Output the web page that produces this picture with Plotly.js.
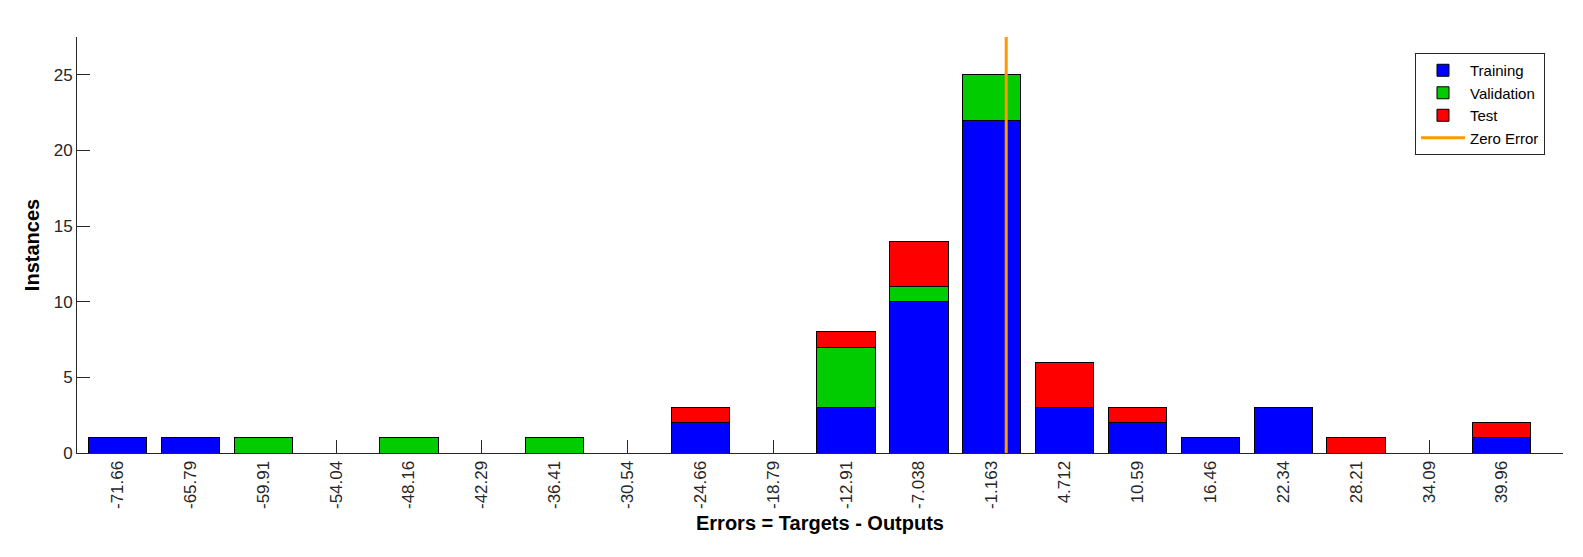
<!DOCTYPE html>
<html>
<head>
<meta charset="utf-8">
<script src="https://cdn.plot.ly/plotly-3.0.1.min.js"></script>
<style>html,body{margin:0;padding:0;background:#fff;}#chart{width:1583px;height:557px;}</style>
</head>
<body>
<div id="chart"></div>
<script>
const binLabels = ["-71.66","-65.79","-59.91","-54.04","-48.16","-42.29","-36.41","-30.54","-24.66","-18.79","-12.91","-7.038","-1.163","4.712","10.59","16.46","22.34","28.21","34.09","39.96"];
const binCenters = [-71.66,-65.79,-59.91,-54.04,-48.16,-42.29,-36.41,-30.54,-24.66,-18.79,-12.91,-7.038,-1.163,4.712,10.59,16.46,22.34,28.21,34.09,39.96];
const training   = [1,1,0,0,0,0,0,0,2,0,3,10,22,3,2,1,3,0,0,1];
const validation = [0,0,1,0,1,0,1,0,0,0,4,1,3,0,0,0,0,0,0,0];
const test       = [0,0,0,0,0,0,0,0,1,0,1,3,0,3,1,0,0,1,0,1];
const zeroErrorX = [0,0];
const zeroErrorY = [0,27.5];

const binStep = (binCenters[binCenters.length-1]-binCenters[0])/(binCenters.length-1);
const barW = binStep*0.8;
const font = "Liberation Sans, Arial, sans-serif";

function barTrace(name, vals, color){
  return {type:'bar', name:name, x:binCenters, y:vals, width:barW,
    marker:{color:color, line:{color:'#000', width:1}}, hoverinfo:'skip'};
}
const data = [
  barTrace('Training', training, '#0000FF'),
  barTrace('Validation', validation, '#00CC00'),
  barTrace('Test', test, '#FF0000'),
  {type:'scatter', mode:'lines', name:'Zero Error', x:zeroErrorX, y:zeroErrorY,
   line:{color:'#FF9900', width:3}, hoverinfo:'skip'}
];
const layout = {
  width:1583, height:557,
  margin:{l:77, r:20, t:37, b:104},
  paper_bgcolor:'#fff', plot_bgcolor:'#fff',
  barmode:'stack',
  font:{family:font, size:17, color:'#262626'},
  showlegend:true,
  legend:{x:0.9004, y:0.9615, xanchor:'left', yanchor:'top', bgcolor:'#fff',
    bordercolor:'#262626', borderwidth:1, font:{size:15, color:'#000'},
    traceorder:'normal', tracegroupgap:0, itemwidth:44},
  xaxis:{range:[binCenters[0]-0.556*binStep, binCenters[binCenters.length-1]+0.84*binStep],
    tickvals:binCenters, ticktext:binLabels, tickangle:-90,
    ticks:'inside', ticklen:13, tickcolor:'#262626', showgrid:false, zeroline:false,
    showline:true, linecolor:'#262626', linewidth:1, layer:'below traces',
    tickfont:{size:17, color:'#262626'}, automargin:false,
    title:{text:'<b>Errors = Targets - Outputs</b>', font:{size:20, color:'#000'}, standoff:7}},
  yaxis:{range:[0,27.5], tickvals:[0,5,10,15,20,25], ticks:'inside', ticklen:13,
    tickcolor:'#262626', showgrid:false, zeroline:false, showline:true,
    linecolor:'#262626', linewidth:1, layer:'below traces',
    tickfont:{size:17, color:'#262626'}, automargin:false,
    title:{text:'<b>Instances</b>', font:{size:20, color:'#000'}, standoff:8}}
};
Plotly.newPlot('chart', data, layout, {staticPlot:true, displayModeBar:false});
</script>
</body>
</html>
